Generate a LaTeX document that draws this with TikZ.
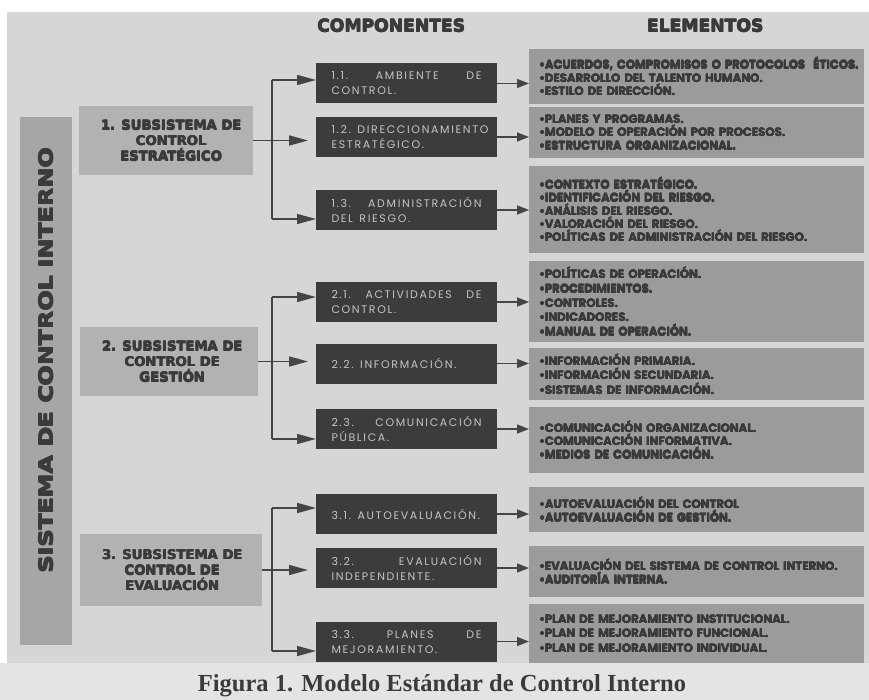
\documentclass[tikz,border=0pt]{standalone}
\usepackage{fontspec}
\usetikzlibrary{arrows.meta,calc}
\newfontfamily\heavyfont{DejaVu Sans Bold}
\newfontfamily\vertfont{DejaVu Sans Bold}[FakeStretch=1.25]
\newfontfamily\compfont{Poppins}[LetterSpace=15]
\newfontfamily\elemfont{Poppins}[FakeStretch=0.975]
\newfontfamily\capfont{Liberation Serif}
\definecolor{bg}{HTML}{D6D6D6}
\definecolor{bgbot}{HTML}{E4E4E4}
\definecolor{barc}{HTML}{A6A6A6}
\definecolor{subc}{HTML}{B2B2B2}
\definecolor{compc}{HTML}{3C3C3C}
\definecolor{compt}{HTML}{C4C4C4}
\definecolor{elemc}{HTML}{9B9B9B}
\definecolor{txtd}{HTML}{3A3A3A}
\definecolor{linec}{HTML}{454545}
\newcommand\jl[1]{\makebox[150pt][l]{#1}}
\newcommand\wsp{\hspace{6.5pt}}
% heavier text by overprinting
\newcommand\thk[2][0.5pt]{\mbox{\rlap{\hspace{#1}#2}\rlap{\raisebox{#1}{#2}}\rlap{\hspace{#1}\raisebox{#1}{#2}}#2}}
\newcommand\et[1]{\thk[0.3pt]{#1}}
\begin{document}
\begin{tikzpicture}[x=1pt,y=-1pt,
  box/.style={draw=none,inner sep=0pt,outer sep=0pt},
  subbox/.style={box,fill=subc,text=txtd,align=center,
    font=\heavyfont\fontsize{13.2}{15.5}\selectfont},
  comp/.style={box,fill=compc,minimum width=181pt,minimum height=40pt,
    text=compt,text width=150pt,align=left,
    font=\compfont\fontsize{11}{15}\selectfont},
  elem/.style={box,fill=elemc,minimum width=335pt,text width=315pt,align=left,
    text=txtd,font=\elemfont\bfseries\fontsize{12}{13.2}\selectfont},
  hdr/.style={text=txtd,font=\heavyfont\fontsize{17.2}{20}\selectfont},
  ln/.style={draw=linec,line width=1.6pt},
  arrL/.style={ln,-{Triangle[length=19pt,width=10pt]}},
  arrR/.style={ln,-{Triangle[length=12pt,width=9pt]}}]
\useasboundingbox (0,0) rectangle (869,700);
\fill[white] (0,0) rectangle (869,700);
\fill[bgbot] (0,663) rectangle (869,700);
\fill[bg] (7,12) rectangle (869,663);

% headers
\node[hdr] (hcomp) at (391,26) {\thk[0.6pt]{COMPONENTES}};
\node[hdr] (helem) at (705,26) {\thk[0.6pt]{ELEMENTOS}};

% vertical bar
\node[box,fill=barc,minimum width=52pt,minimum height=528pt] (bar) at (46,381) {};
\node[rotate=90,text=txtd,font=\vertfont\fontsize{19}{22}\selectfont] (bartxt) at (46,361) {\thk[0.8pt]{SISTEMA DE CONTROL INTERNO}};

% subsystems
\node[subbox,minimum width=174pt,minimum height=69pt] (sub1) at (166,140.5) {\hspace*{10pt}\thk{1. SUBSISTEMA DE}\\\hspace*{10pt}\thk{CONTROL}\\\hspace*{10pt}\thk{ESTRATÉGICO}};
\node[subbox,minimum width=178pt,minimum height=69pt] (sub2) at (169,361.5) {\hspace*{6pt}\thk{2. SUBSISTEMA DE}\\\hspace*{6pt}\thk{CONTROL DE}\\\hspace*{6pt}\thk{GESTIÓN}};
\node[subbox,minimum width=182pt,minimum height=72pt] (sub3) at (171,570) {\hspace*{2pt}\thk{3. SUBSISTEMA DE}\\\hspace*{2pt}\thk{CONTROL DE}\\\hspace*{2pt}\thk{EVALUACIÓN}};

% components
\node[comp] (c11) at (406.5,83.5) {\jl{1.1.\hfill AMBIENTE\hfill DE}\\CONTROL.};
\node[comp] (c12) at (406.5,137) {\jl{1.2.\wsp{}DIRECCIONAMIENTO}\\ESTRATÉGICO.};
\node[comp] (c13) at (406.5,210) {\jl{1.3.\hfill ADMINISTRACIÓN}\\DEL\wsp{}RIESGO.};
\node[comp] (c21) at (406.5,302) {\jl{2.1.\hfill ACTIVIDADES\hfill DE}\\CONTROL.};
\node[comp] (c22) at (406.5,363.5) {2.2.\wsp{}INFORMACIÓN.};
\node[comp] (c23) at (406.5,429) {\jl{2.3.\hfill COMUNICACIÓN}\\PÚBLICA.};
\node[comp] (c31) at (406.5,514) {3.1.\wsp{}AUTOEVALUACIÓN.};
\node[comp] (c32) at (406.5,568) {\jl{3.2.\hfill EVALUACIÓN}\\INDEPENDIENTE.};
\node[comp] (c33) at (406.5,641.5) {\jl{3.3.\hfill PLANES\hfill DE}\\MEJORAMIENTO.};

% elements
\node[elem,minimum height=55pt] (e11) at (696.5,76.5) {\et{•ACUERDOS, COMPROMISOS O PROTOCOLOS~~ÉTICOS.}\\\et{•DESARROLLO DEL TALENTO HUMANO.}\\\et{•ESTILO DE DIRECCIÓN.}};
\node[elem,minimum height=51pt] (e12) at (696.5,132.5) {\et{•PLANES Y PROGRAMAS.}\\\et{•MODELO DE OPERACIÓN POR PROCESOS.}\\\et{•ESTRUCTURA ORGANIZACIONAL.}};
\node[elem,minimum height=87pt] (e13) at (696.5,209.5) {\et{•CONTEXTO ESTRATÉGICO.}\\\et{•IDENTIFICACIÓN DEL RIESGO.}\\\et{•ANÁLISIS DEL RIESGO.}\\\et{•VALORACIÓN DEL RIESGO.}\\\et{•POLÍTICAS DE ADMINISTRACIÓN DEL RIESGO.}};
\node[elem,minimum height=81pt,font=\elemfont\bfseries\fontsize{12}{14.3}\selectfont] (e21) at (696.5,301.5) {\et{•POLÍTICAS DE OPERACIÓN.}\\\et{•PROCEDIMIENTOS.}\\\et{•CONTROLES.}\\\et{•INDICADORES.}\\\et{•MANUAL DE OPERACIÓN.}};
\node[elem,minimum height=52pt,font=\elemfont\bfseries\fontsize{12}{14.5}\selectfont] (e22) at (696.5,374) {\et{•INFORMACIÓN PRIMARIA.}\\\et{•INFORMACIÓN SECUNDARIA.}\\\et{•SISTEMAS DE INFORMACIÓN.}};
\node[elem,minimum height=66pt] (e23) at (696.5,440) {\et{•COMUNICACIÓN ORGANIZACIONAL.}\\\et{•COMUNICACIÓN INFORMATIVA.}\\\et{•MEDIOS DE COMUNICACIÓN.}};
\node[elem,minimum height=45pt] (e31) at (696.5,509.5) {\et{•AUTOEVALUACIÓN DEL CONTROL}\\\et{•AUTOEVALUACIÓN DE GESTIÓN.}};
\node[elem,minimum height=51pt] (e32) at (696.5,571.5) {\et{•EVALUACIÓN DEL SISTEMA DE CONTROL INTERNO.}\\\et{•AUDITORÍA INTERNA.}};
\node[elem,minimum height=59pt,font=\elemfont\bfseries\fontsize{12}{14.5}\selectfont] (e33) at (696.5,633.5) {\et{•PLAN DE MEJORAMIENTO INSTITUCIONAL.}\\\et{•PLAN DE MEJORAMIENTO FUNCIONAL.}\\\et{•PLAN DE MEJORAMIENTO INDIVIDUAL.}};

% brackets and arrows
\coordinate (j1t) at (272,80);  \coordinate (j1b) at (272,219);
\coordinate (j2t) at (272,297); \coordinate (j2b) at (272,439);
\coordinate (j3t) at (272,508); \coordinate (j3b) at (272,651);
\draw[ln] (j1t) -- (j1b);
\draw[ln] (j2t) -- (j2b);
\draw[ln] (j3t) -- (j3b);
\draw[arrL] (j1t) -- (j1t -| c11.west);
\draw[arrL] (j1b) -- (j1b -| c13.west);
\draw[arrL,shorten >=8pt] (sub1.east) -- (sub1.east -| c12.west);
\draw[arrL] (j2t) -- (j2t -| c21.west);
\draw[arrL] (j2b) -- (j2b -| c23.west);
\draw[arrL,shorten >=8pt] (sub2.east) -- (sub2.east -| c22.west);
\draw[arrL] (j3t) -- (j3t -| c31.west);
\draw[arrL] (j3b) -- (j3b -| c33.west);
\draw[arrL,shorten >=8pt] (sub3.east) -- (sub3.east -| c32.west);

\foreach \a/\b in {c11/e11,c12/e12,c13/e13,c21/e21,c22/e22,c23/e23,c31/e31,c32/e32,c33/e33}
  \draw[arrR] (\a.east) -- (\a.east -| \b.west);

% caption
\node[anchor=base,text=txtd,font=\capfont\bfseries\fontsize{24.5}{28}\selectfont] (cap) at (442,691) {Figura 1. Modelo Estándar de Control Interno};
\end{tikzpicture}
\end{document}
